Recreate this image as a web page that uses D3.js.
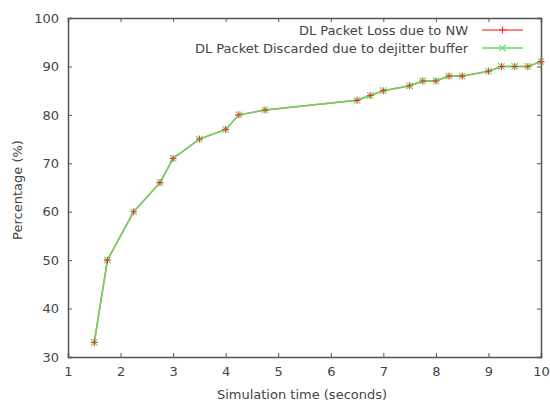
<!DOCTYPE html>
<html><head><meta charset="utf-8">
<script src="https://cdn.jsdelivr.net/npm/d3@7"></script>
<style>body{margin:0;background:#fff}svg{display:block}text{font-family:"DejaVu Sans",sans-serif;fill:#444}</style>
</head><body><svg id="c" width="550" height="407"></svg>
<script>
const times = [1.5,1.75,2.25,2.75,3,3.5,4,4.25,4.75,6.5,6.75,7,7.5,7.75,8,8.25,8.5,9,9.25,9.5,9.75,10];
const lossNW = [33,50,60,66,71,75,77,80,81,83,84,85,86,87,87,88,88,89,90,90,90,91];
const discarded = [33,50,60,66,71,75,77,80,81,83,84,85,86,87,87,88,88,89,90,90,90,91];
const seriesNames = ["DL Packet Loss due to NW","DL Packet Discarded due to dejitter buffer"];
const xTicks = [1,2,3,4,5,6,7,8,9,10];
const yTicks = [30,40,50,60,70,80,90,100];

const svg = d3.select("#c");
const L=68,T=18,R=541,B=357;
const x = d3.scaleLinear().domain([1,10]).range([L,R]);
const y = d3.scaleLinear().domain([30,100]).range([B,T]);
const red="#ff5c5c", green="#5cdc5c", axc="#555";

const g = svg.append("g");
const ax = [
  [d3.axisBottom(x).tickValues(xTicks).tickSize(-4).tickPadding(10), `translate(0,${B})`],
  [d3.axisTop(x).tickValues(xTicks).tickSize(-4).tickFormat(""), `translate(0,${T})`],
  [d3.axisLeft(y).tickValues(yTicks).tickSize(-4).tickPadding(9), `translate(${L},0)`],
  [d3.axisRight(y).tickValues(yTicks).tickSize(-4).tickFormat(""), `translate(${R},0)`]
];
ax.forEach(([a,tr])=>{
  const s=g.append("g").attr("transform",tr).call(a);
  s.select(".domain").attr("stroke",axc).attr("stroke-width",1.5);
  s.selectAll(".tick line").attr("stroke",axc);
  s.selectAll(".tick text").style("font-size","13px").style("font-family","DejaVu Sans").attr("fill","#444");
});

const line = d3.line().x((d,i)=>x(times[i])).y(d=>y(d));
g.append("path").datum(lossNW).attr("d",line).attr("fill","none").attr("stroke",red).attr("stroke-width",1.5);
g.append("path").datum(discarded).attr("d",line).attr("fill","none").attr("stroke",green).attr("stroke-width",1.5);

function xMark(sel, cx, cy){
  const s=3.2;
  sel.append("path").attr("d",`M${cx-s},${cy-s}L${cx+s},${cy+s}M${cx-s},${cy+s}L${cx+s},${cy-s}`).attr("stroke",green).attr("stroke-width",1.1);
}
function plusMark(sel, cx, cy){
  const s=3.5;
  sel.append("path").attr("d",`M${cx-s},${cy}L${cx+s},${cy}M${cx},${cy-s}L${cx},${cy+s}`).attr("stroke","#ee3333").attr("stroke-width",1.1);
}
discarded.forEach((v,i)=>xMark(g,x(times[i]),y(v)));
lossNW.forEach((v,i)=>plusMark(g,x(times[i]),y(v)));

const lg = svg.append("g");
[[seriesNames[0],30,red,plusMark],[seriesNames[1],48,green,xMark]].forEach(([t,yy,c,m])=>{
  lg.append("text").attr("x",468).attr("y",yy).attr("dy","0.35em").attr("text-anchor","end").style("font-size","13px").text(t);
  lg.append("line").attr("x1",482).attr("x2",523).attr("y1",yy).attr("y2",yy).attr("stroke",c).attr("stroke-width",1.5);
  m(lg,502.5,yy);
});

svg.append("text").attr("x",302).attr("y",399).attr("text-anchor","middle").style("font-size","13px").text("Simulation time (seconds)");
svg.append("text").attr("transform","translate(22,190) rotate(-90)").attr("text-anchor","middle").style("font-size","13px").text("Percentage (%)");
</script></body></html>
